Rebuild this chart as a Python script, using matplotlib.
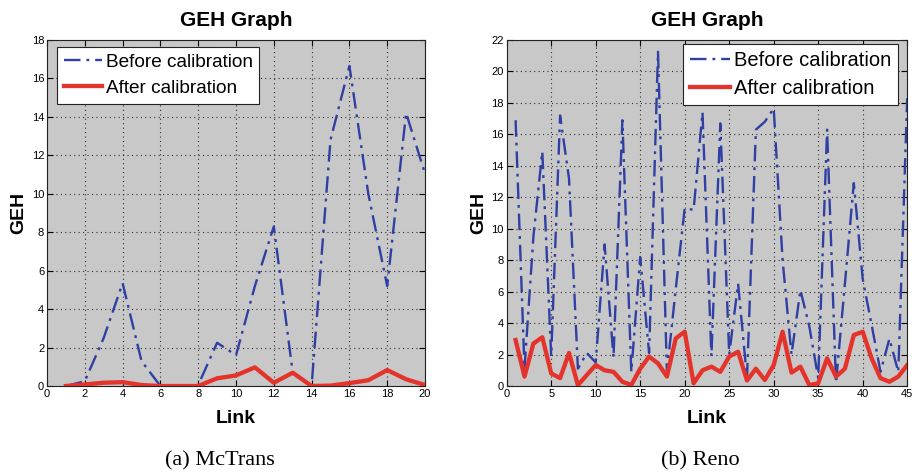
import matplotlib
matplotlib.use("Agg")
import matplotlib.pyplot as plt
import numpy as np

# ---- data ----
links_a = list(range(1, 21))
before_a = [0.0, 0.25, 2.5, 5.35, 1.3, 0.0, 0.0, 0.05, 2.25, 1.6,
            5.2, 8.3, 0.7, 0.0, 12.8, 16.65, 10.0, 5.2, 14.2, 11.05]
after_a = [0.0, 0.08, 0.17, 0.2, 0.05, 0.0, 0.0, 0.0, 0.4, 0.55,
           0.97, 0.17, 0.69, 0.0, 0.02, 0.15, 0.3, 0.83, 0.35, 0.05]

links_b = list(range(1, 46))
before_b = [16.9, 1.1, 9.5, 14.9, 1.9, 17.2, 13.2, 1.1, 2.1, 1.5,
            9.0, 1.8, 16.9, 0.9, 8.2, 2.1, 21.25, 0.9, 6.2, 11.3,
            11.2, 17.4, 1.9, 16.7, 2.0, 6.5, 0.5, 16.3, 16.8, 17.65,
            8.0, 2.0, 6.1, 3.8, 0.5, 16.3, 0.2, 6.5, 12.9, 6.8,
            3.9, 0.9, 3.0, 0.9, 18.3]
after_b = [2.92, 0.6, 2.7, 3.1, 0.8, 0.5, 2.1, 0.05, 0.7, 1.33,
           1.0, 0.9, 0.27, 0.06, 1.1, 1.87, 1.44, 0.6, 3.03, 3.45,
           0.17, 1.0, 1.23, 0.9, 1.87, 2.18, 0.35, 1.1, 0.38, 1.33,
           3.45, 0.85, 1.23, 0.06, 0.17, 1.76, 0.6, 1.1, 3.24, 3.45,
           1.76, 0.5, 0.27, 0.6, 1.33]

xticks_a = list(range(0, 21, 2))
yticks_a = list(range(0, 19, 2))
xticks_b = list(range(0, 46, 5))
yticks_b = list(range(0, 23, 2))

title = "GEH Graph"
xlabel = "Link"
ylabel = "GEH"
label_before = "Before calibration"
label_after = "After calibration"
caption_a = "(a) McTrans"
caption_b = "(b) Reno"

# ---- style ----
BG = "#c8c8c8"
BLUE = "#2f3fa3"
RED = "#e4332b"
SANS = ["Liberation Sans", "DejaVu Sans"]

fig = plt.figure(figsize=(9.15, 4.74), dpi=100)
fig.patch.set_facecolor("white")


def setup(ax, links, before, after, xt, yt, xlim, ylim, legloc, bbox, legsize):
    ax.set_facecolor(BG)
    ax.plot(links, before, color=BLUE, linestyle="-.", linewidth=1.7,
            dashes=(7, 2.5, 1.2, 2.5), label=label_before, zorder=3)
    ax.plot(links, after, color=RED, linestyle="-", linewidth=3.1,
            label=label_after, zorder=4)
    ax.set_xlim(*xlim)
    ax.set_ylim(*ylim)
    ax.set_xticks(xt)
    ax.set_yticks(yt)
    ax.tick_params(direction="in", top=True, right=True, length=4,
                   width=0.8, labelsize=8, pad=2)
    for lab in ax.get_xticklabels() + ax.get_yticklabels():
        lab.set_fontfamily(SANS)
    ax.grid(True, color="#303030", linestyle=(0, (1, 3)), linewidth=0.8)
    for sp in ax.spines.values():
        sp.set_linewidth(0.8)
        sp.set_color("#222222")
    ax.set_title(title, fontsize=15, fontweight="bold", family=SANS, pad=10)
    ax.set_xlabel(xlabel, fontsize=14, fontweight="bold", family=SANS, labelpad=8)
    ax.set_ylabel(ylabel, fontsize=14, fontweight="bold", family=SANS, labelpad=3)
    leg = ax.legend(loc=legloc, bbox_to_anchor=bbox, fancybox=False,
                    framealpha=1, edgecolor="#222222",
                    prop={"family": SANS, "size": legsize},
                    handlelength=2.0, handletextpad=0.2, borderpad=0.35,
                    labelspacing=0.45, borderaxespad=0)
    leg.get_frame().set_linewidth(0.8)
    return ax


ax1 = fig.add_axes([47 / 915, 88 / 474, 378 / 915, 346 / 474])
setup(ax1, links_a, before_a, after_a, xticks_a, yticks_a, (0, 20), (0, 18),
      "upper left", (10 / 378, 1 - 7 / 346), 13.7)

ax2 = fig.add_axes([506.7 / 915, 88 / 474, 400.5 / 915, 346 / 474])
setup(ax2, links_b, before_b, after_b, xticks_b, yticks_b, (0, 45), (0, 22),
      "upper right", (1 - 9 / 400.5, 1 - 4 / 346), 14.5)

fig.text(220 / 915, 1 - 461 / 474, caption_a, ha="center", va="center",
         fontsize=16, family=["Liberation Serif", "DejaVu Serif"])
fig.text(700 / 915, 1 - 461 / 474, caption_b, ha="center", va="center",
         fontsize=16, family=["Liberation Serif", "DejaVu Serif"])

fig.savefig("out.png", dpi=100)
